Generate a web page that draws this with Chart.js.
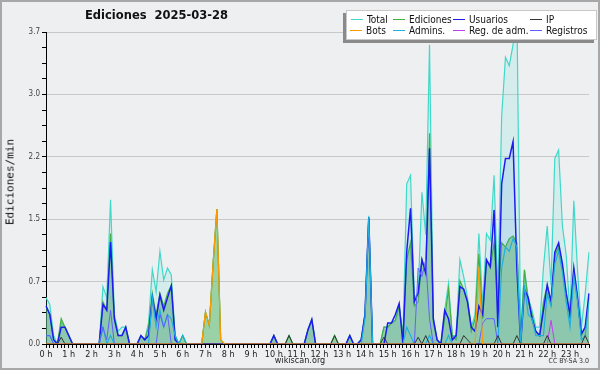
<!DOCTYPE html>
<html>
<head>
<meta charset="utf-8">
<title>Ediciones 2025-03-28</title>
<script src="https://cdn.jsdelivr.net/npm/chart.js@4.4.1/dist/chart.umd.min.js"></script>
<style>
  html, body { margin: 0; padding: 0; background: #eeeff1; }
  #wrap { position: relative; width: 600px; height: 370px; overflow: hidden; background: #eeeff1; }
  #chart { position: absolute; left: 0; top: 0; }
  #frame { position: absolute; left: 0; top: 0; width: 600px; height: 370px; box-sizing: border-box;
           border: 2px solid #a8a8a8; pointer-events: none; }
  #title { position: absolute; left: 85px; top: 8px; font: bold 11.5px "DejaVu Sans", sans-serif;
           white-space: pre; color: #111; }
  #ytitle { position: absolute; left: 10px; top: 182px; font: 11px "DejaVu Sans Mono", monospace; color: #111;
            transform: translate(-50%, -50%) rotate(-90deg); white-space: nowrap; }
  #legend { position: absolute; left: 346px; top: 10px; width: 251px; height: 30px; box-sizing: border-box;
            background: #fff; border: 1px solid #c8c8c8; box-shadow: -3px 3px 0 #8a8a8a; }
  .li { position: absolute; font: 10px "DejaVu Sans Condensed", "DejaVu Sans", sans-serif; color: #111;
        line-height: 11px; white-space: nowrap; }
  .li i { position: absolute; left: -16px; top: 5px; width: 12px; height: 1px; }
  #site { position: absolute; left: 300px; top: 355px; transform: translateX(-50%);
          font: 9px "DejaVu Sans Condensed", "DejaVu Sans", sans-serif; color: #222; }
  #lic { position: absolute; right: 11px; top: 357px; font: 7px "DejaVu Sans Condensed", "DejaVu Sans", sans-serif; color: #333; }
</style>
</head>
<body>
<div id="wrap">
  <canvas id="chart" width="600" height="370"></canvas>
  <div id="title">Ediciones  2025-03-28</div>
  <div id="ytitle">Ediciones/min</div>
  <div id="legend">
    <div class="li" style="left:20px;top:3px"><i style="background:#40d8c8"></i>Total</div>
    <div class="li" style="left:62px;top:3px"><i style="background:#44b044"></i>Ediciones</div>
    <div class="li" style="left:122px;top:3px"><i style="background:#1c1cf0"></i>Usuarios</div>
    <div class="li" style="left:199px;top:3px"><i style="background:#333"></i>IP</div>
    <div class="li" style="left:19px;top:14px"><i style="background:#ff9900"></i>Bots</div>
    <div class="li" style="left:62px;top:14px"><i style="background:#20b0e0"></i>Admins.</div>
    <div class="li" style="left:122px;top:14px"><i style="background:#c040f0"></i>Reg. de adm.</div>
    <div class="li" style="left:199px;top:14px"><i style="background:#6060ff"></i>Registros</div>
  </div>
  <div id="site">wikiscan.org</div>
  <div id="lic">CC BY-SA 3.0</div>
  <div id="frame"></div>
</div>
<script>
// 10-minute slots, 0 h .. 23 h 50
const hourTicks = ['0 h','1 h','2 h','3 h','4 h','5 h','6 h','7 h','8 h','9 h','10 h','11 h',
                   '12 h','13 h','14 h','15 h','16 h','17 h','18 h','19 h','20 h','21 h','22 h','23 h'];
const slots = [];
for (let h = 0; h < 24; h++) for (let m = 0; m < 60; m += 10) slots.push(h + ':' + (m < 10 ? '0' : '') + m);

const yMax = 3.7;
const yTicks = [0, 0.185, 0.37, 0.555, 0.74, 0.925, 1.11, 1.295, 1.48, 1.665, 1.85, 2.035, 2.22,
                2.405, 2.59, 2.775, 2.96, 3.145, 3.33, 3.515, 3.7];

// values per 10 minutes (edits/min), one row = 2 hours
const total = [
  0.55,0.47,0.1,0,0.25,0.2, 0.1,0,0,0,0,0,
  0,0,0,0.68,0.55,1.71, 0.35,0.15,0.2,0.2,0,0,
  0,0.1,0.05,0.25,0.88,0.62, 1.1,0.76,0.9,0.82,0.1,0,
  0.1,0,0,0,0,0, 0.38,0.22,0.95,1.6,0.05,0,
  0,0,0,0,0,0, 0,0,0,0,0,0,
  0.1,0,0,0,0.1,0, 0,0,0,0.17,0.29,0,
  0,0,0,0,0.1,0, 0,0,0.1,0,0,0.05,
  0.35,1.52,0,0,0,0.2, 0.2,0.25,0.28,0.45,0.1,1.9,
  2.0,0.55,0.6,1.8,1.3,3.55, 0.3,0.05,0,0.4,0.72,0.1,
  0.1,1.0,0.8,0.55,0.2,0.35, 1.31,0.45,1.31,1.23,2.0,0.6,
  2.7,3.4,3.3,3.55,4.0,0.1, 0.88,0.55,0.4,0.2,0.2,0.9,
  1.4,0.7,2.2,2.3,1.4,1.05, 0.35,1.7,0.85,0.2,0.6,1.09
];
const ediciones = [
  0.45,0.35,0.05,0,0.3,0.2, 0.1,0,0,0,0,0,
  0,0,0,0.5,0.4,1.31, 0.3,0.1,0.1,0.2,0,0,
  0,0.1,0.05,0.2,0.6,0.35, 0.6,0.45,0.6,0.7,0.1,0,
  0.1,0,0,0,0,0, 0.38,0.22,0.95,1.6,0.05,0,
  0,0,0,0,0,0, 0,0,0,0,0,0,
  0.1,0,0,0,0.1,0, 0,0,0,0.17,0.29,0,
  0,0,0,0,0.1,0, 0,0,0.1,0,0,0.05,
  0.35,1.5,0,0,0,0.2, 0.2,0.25,0.28,0.45,0.1,1.0,
  1.2,0.45,0.5,1.0,0.85,2.5, 0.25,0.05,0,0.3,0.65,0.1,
  0.05,0.75,0.65,0.5,0.15,0.3, 1.07,0.3,1.0,0.9,1.2,0.45,
  1.2,1.15,1.25,1.28,1.2,0.05, 0.88,0.5,0.35,0.15,0.1,0.5,
  0.7,0.5,1.05,1.15,0.9,0.6, 0.3,0.9,0.5,0.1,0.2,0.55
];
const usuarios = [
  0.45,0.35,0.05,0,0.2,0.2, 0.1,0,0,0,0,0,
  0,0,0,0.47,0.4,1.21, 0.3,0.1,0.1,0.2,0,0,
  0,0.1,0.05,0.1,0.55,0.3, 0.58,0.4,0.55,0.69,0.05,0,
  0,0,0,0,0,0, 0,0,0,0,0,0,
  0,0,0,0,0,0, 0,0,0,0,0,0,
  0.1,0,0,0,0,0, 0,0,0,0.17,0.29,0,
  0,0,0,0,0,0, 0,0,0.1,0,0,0.05,
  0.35,1.5,0,0,0,0, 0.25,0.25,0.35,0.48,0,1.1,
  1.61,0.5,0.6,1.0,0.84,2.32, 0.3,0.05,0,0.4,0.3,0.05,
  0.1,0.68,0.65,0.5,0.2,0.15, 0.45,0.35,1.0,0.92,1.59,0.2,
  1.9,2.2,2.2,2.4,0.9,0, 0.65,0.55,0.3,0.15,0.1,0.4,
  0.7,0.5,1.09,1.2,0.95,0.6, 0.35,0.9,0.55,0.12,0.2,0.6
];
const ip = [
  0,0,0,0,0.08,0, 0,0,0,0,0,0,
  0,0,0,0,0,0, 0,0,0,0,0,0,
  0,0,0,0,0,0, 0,0,0,0,0,0,
  0,0,0,0,0,0, 0,0,0,0,0,0,
  0,0,0,0,0,0, 0,0,0,0,0,0,
  0,0,0,0,0.1,0, 0,0,0,0,0,0,
  0,0,0,0,0.1,0, 0,0,0,0,0,0,
  0,0,0,0,0,0.08, 0,0,0,0,0,0,
  0,0,0.08,0,0.1,0, 0,0,0,0,0,0,
  0,0,0.1,0.05,0,0, 0,0,0,0,0,0.1,
  0,0,0,0,0.1,0, 0,0,0,0,0,0,
  0.1,0,0,0,0,0, 0,0,0,0,0.1,0
];
const bots = [
  0,0,0,0,0,0, 0,0,0,0,0,0,
  0,0,0,0,0,0, 0,0,0,0,0,0,
  0,0,0,0,0,0, 0,0,0,0,0,0,
  0,0,0,0,0,0, 0.38,0.22,0.95,1.6,0.05,0,
  0,0,0,0,0,0, 0,0,0,0,0,0,
  0,0,0,0,0,0, 0,0,0,0,0,0,
  0,0,0,0,0,0, 0,0,0,0,0,0,
  0,0,0,0,0,0, 0,0,0,0,0,0,
  0,0,0,0,0,0, 0,0,0,0,0,0,
  0,0,0,0,0,0, 0.92,0,0,0,0,0,
  0,0,0,0,0,0, 0,0,0,0,0,0,
  0,0,0,0,0,0, 0,0,0,0,0,0
];
const admins = [
  0.1,0.1,0,0,0,0, 0,0,0,0,0,0,
  0,0,0,0.2,0,0.1, 0,0,0,0,0,0,
  0,0,0,0,0.55,0.2, 0.4,0.2,0.35,0.3,0.1,0,
  0.1,0,0,0,0,0, 0,0,0,0,0,0,
  0,0,0,0,0,0, 0,0,0,0,0,0,
  0,0,0,0,0,0, 0,0,0,0,0,0,
  0,0,0,0,0,0, 0,0,0,0,0,0,
  0.3,1.5,0,0,0,0, 0,0,0,0,0,0.2,
  0.1,0,0,0,0,0.1, 0,0,0,0,0.1,0,
  0,0,0,0,0,0, 0,0,0,0,0,0,
  0.9,1.15,1.1,1.25,1.15,0, 0.7,0.35,0.3,0.1,0.1,0.1,
  0.6,0.45,0.95,1.1,0.85,0.5, 0.2,0.8,0.5,0.05,0.1,0.5
];
const regAdm = [
  0,0,0,0,0,0, 0,0,0,0,0,0,
  0,0,0,0,0,0, 0,0,0,0,0,0,
  0,0,0,0,0,0, 0,0,0,0,0,0,
  0,0,0,0,0,0, 0,0,0,0,0,0,
  0,0,0,0,0,0, 0,0,0,0,0,0,
  0,0,0,0,0,0, 0,0,0,0,0,0,
  0,0,0,0,0,0, 0,0,0,0,0,0,
  0,0,0,0,0,0, 0,0,0,0,0,0,
  0,0,0,0,0,0, 0,0,0,0,0,0,
  0,0,0,0,0,0, 0,0,0,0,0,0,
  0,0,0,0,0,0, 0,0,0,0,0,0,
  0,0.28,0,0,0,0, 0,0,0,0,0,0
];
const registros = [
  0.1,0.1,0,0,0,0, 0,0,0,0,0,0,
  0,0,0,0.2,0.05,0.4, 0,0,0,0,0,0,
  0,0,0,0,0,0, 0.35,0.2,0.35,0,0,0,
  0,0,0,0,0,0, 0,0,0,0,0,0,
  0,0,0,0,0,0, 0,0,0,0,0,0,
  0,0,0,0,0,0, 0,0,0,0,0,0,
  0,0,0,0,0,0, 0,0,0,0,0,0,
  0,0,0,0,0,0, 0,0,0,0,0,0,
  0,0,0.9,0.8,1.0,0.3, 0,0,0,0,0,0,
  0,0,0,0,0,0, 0,0.25,0.3,0.3,0.3,0,
  0,0,0,0,0,0, 0,0,0,0,0,0,
  0,0,0,0,0,0, 0,0,0,0,0,0
];

function series(label, data, color, order, width, fill) {
  return {
    label: label, data: data, borderColor: color, borderWidth: width,
    backgroundColor: fill || 'transparent', fill: fill ? 'origin' : false,
    pointRadius: 0, tension: 0, order: order
  };
}

const tickFont = { family: '"DejaVu Sans Condensed", "DejaVu Sans", sans-serif' };

new Chart(document.getElementById('chart'), {
  type: 'line',
  data: {
    labels: slots,
    datasets: [
      series('Total', total, '#40d8c8', 8, 1.2, 'rgba(64,224,208,0.15)'),
      series('Ediciones', ediciones, '#44b044', 7, 1.2, 'rgba(95,185,95,0.5)'),
      series('Usuarios', usuarios, '#1c1cf0', 6, 1.5, 'rgba(50,120,235,0.12)'),
      series('Admins.', admins, '#20b0e0', 5, 1.2),
      series('Registros', registros, '#6060ff', 4, 1),
      series('Reg. de adm.', regAdm, '#c040f0', 3, 1),
      series('IP', ip, '#333333', 2, 1),
      series('Bots', bots, '#ff9900', 1, 1.2)
    ]
  },
  options: {
    responsive: false,
    animation: false,
    devicePixelRatio: 1,
    layout: { padding: { top: 32, right: 11, left: 0, bottom: 0 } },
    plugins: { legend: { display: false }, tooltip: { enabled: false } },
    scales: {
      x: {
        type: 'category',
        offset: false,
        afterFit: s => { s.height = 26; },
        ticks: {
          autoSkip: false, maxRotation: 0, minRotation: 0, padding: 1,
          color: '#222', font: Object.assign({ size: 9 }, tickFont),
          callback: (v, i) => (i % 6 === 0 ? hourTicks[i / 6] : '')
        },
        grid: { drawOnChartArea: false, tickColor: '#000', tickLength: 4, offset: false },
        border: { color: '#000', width: 1 }
      },
      y: {
        min: 0, max: yMax,
        afterBuildTicks: s => { s.ticks = yTicks.map(v => ({ value: v })); },
        afterFit: s => { s.width = 46; },
        ticks: {
          autoSkip: false, padding: 2, color: '#444', font: Object.assign({ size: 8 }, tickFont),
          callback: (v, i) => (i % 4 === 0 ? v.toFixed(1) : '')
        },
        grid: {
          color: c => (c.index % 4 === 0 && c.index > 0 ? '#c8c8c8' : 'rgba(0,0,0,0)'),
          tickColor: '#000', tickLength: 4
        },
        border: { color: '#000', width: 1 }
      }
    }
  }
});
</script>
</body>
</html>
